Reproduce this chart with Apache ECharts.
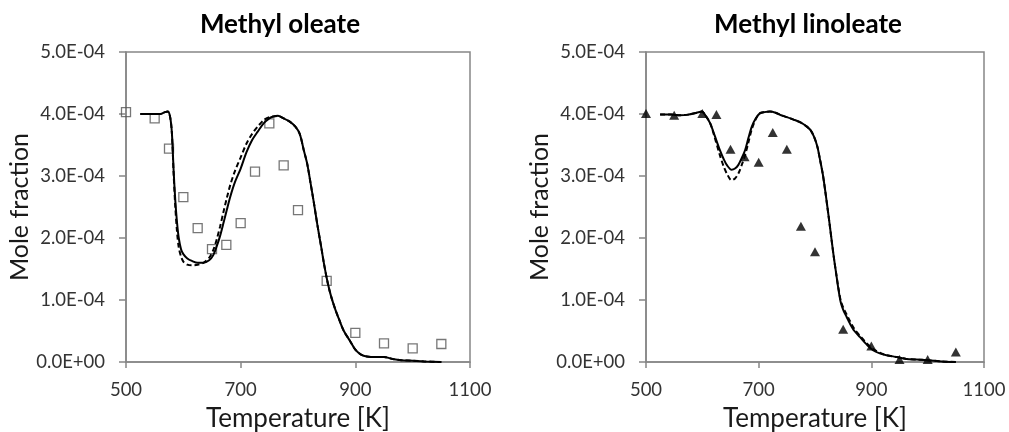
<!DOCTYPE html>
<html>
<head>
<meta charset="utf-8">
<script src="https://cdn.jsdelivr.net/npm/echarts@6/dist/echarts.min.js"></script>
<style>
html,body{margin:0;padding:0;background:#fff;}
#chart{width:1009px;height:432px;}
</style>
</head>
<body>
<div id="chart"></div>
<script>
// Values in units of 1E-04 mole fraction
const titles = ['Methyl oleate', 'Methyl linoleate'];
const xTicks = [500, 700, 900, 1100];
const yTicks = [0, 1, 2, 3, 4, 5]; // x 1E-04

// Methyl oleate experiments (open squares)
const oleExpT = [500, 550, 575, 600, 625, 650, 675, 700, 725, 750, 775, 800, 850, 900, 950, 1000, 1050];
const oleExpV = [4.03, 3.93, 3.44, 2.66, 2.16, 1.82, 1.89, 2.24, 3.07, 3.85, 3.17, 2.45, 1.31, 0.47, 0.30, 0.22, 0.29];

// Methyl oleate model (solid)
const oleModT = [525,545,560,568,573,577,580,583,586,589,592,596,600,607,615,625,635,645,652,658,664,670,676,682,690,700,710,720,730,740,750,757,765,775,785,795,803,810,816,822,828,834,840,846,852,858,865,872,880,890,900,910,920,935,950,965,980,1000,1020,1050];
const oleSolidV = [4.00,4.00,4.00,4.03,4.04,3.95,3.70,3.10,2.60,2.25,2.00,1.82,1.74,1.67,1.63,1.60,1.60,1.64,1.72,1.86,2.03,2.24,2.46,2.67,2.90,3.12,3.38,3.58,3.72,3.85,3.93,3.96,3.97,3.93,3.88,3.80,3.68,3.42,3.20,2.88,2.55,2.20,1.88,1.55,1.27,1.05,0.85,0.68,0.50,0.35,0.20,0.12,0.09,0.08,0.08,0.05,0.03,0.02,0.01,0.00];
const oleDashV = [4.00,4.00,4.00,4.03,4.04,3.95,3.70,3.05,2.50,2.10,1.85,1.70,1.62,1.57,1.56,1.57,1.60,1.68,1.80,1.97,2.18,2.42,2.65,2.86,3.08,3.30,3.52,3.68,3.80,3.90,3.95,3.96,3.97,3.93,3.88,3.80,3.68,3.42,3.20,2.88,2.55,2.20,1.88,1.55,1.27,1.05,0.85,0.68,0.50,0.35,0.20,0.12,0.09,0.08,0.08,0.05,0.03,0.02,0.01,0.00];

// Methyl linoleate experiments (filled triangles)
const linExpT = [500, 550, 600, 625, 650, 675, 700, 725, 750, 775, 800, 850, 900, 950, 1000, 1050];
const linExpV = [4.01, 3.98, 4.01, 3.99, 3.43, 3.31, 3.22, 3.70, 3.43, 2.19, 1.78, 0.53, 0.26, 0.04, 0.04, 0.16];

// Methyl linoleate model
const linModT = [525,545,560,575,590,599,606,614,622,631,638,644,652,658,664,670,676,682,688,695,702,710,720,730,740,750,762,775,785,792,798,804,809,814,818,822,826,830,834,838,842,846,851,856,862,870,880,892,903,915,927,945,962,980,1000,1025,1050];
const linSolidV = [3.99,3.99,3.98,3.99,4.02,4.04,3.97,3.85,3.65,3.42,3.27,3.17,3.10,3.12,3.18,3.29,3.42,3.62,3.80,3.93,4.01,4.03,4.04,4.02,3.98,3.95,3.91,3.86,3.80,3.74,3.64,3.48,3.26,3.02,2.77,2.50,2.22,1.93,1.65,1.40,1.15,0.95,0.82,0.73,0.62,0.50,0.40,0.28,0.19,0.14,0.11,0.08,0.05,0.04,0.03,0.01,0.00];
const linDashV = [3.99,3.99,3.98,3.99,4.02,4.04,3.97,3.85,3.62,3.34,3.15,3.03,2.93,2.96,3.04,3.18,3.34,3.55,3.76,3.92,4.01,4.03,4.04,4.02,3.98,3.95,3.91,3.86,3.80,3.74,3.64,3.48,3.26,3.02,2.77,2.50,2.22,1.93,1.65,1.40,1.17,0.98,0.86,0.77,0.66,0.53,0.42,0.30,0.21,0.15,0.11,0.08,0.05,0.04,0.03,0.01,0.00];

const E4 = 1e-4;
const pairs = (xs, ys) => xs.map((x, i) => [x, ys[i] * E4]);

function fmtSci(v) {
  if (Math.abs(v) < 1e-12) return '0.0E+00';
  const s = v.toExponential(1);
  const [m, e] = s.split('e');
  const sign = e[0] === '-' ? '-' : '+';
  const d = e.replace(/[+-]/, '').padStart(2, '0');
  return m + 'E' + sign + d;
}

const FONT = 'Lato';
const AX = '#868686';

const grids = [
  {left: 126, top: 52, width: 344, height: 310},
  {left: 646, top: 52, width: 338, height: 310}
];

function xAxis(i) {
  return {
    type: 'value', gridIndex: i, min: xTicks[0], max: xTicks[xTicks.length - 1], interval: 200,
    name: 'Temperature [K]', nameLocation: 'middle', nameGap: 44,
    nameTextStyle: {fontFamily: FONT, fontSize: 26, color: '#1a1a1a'},
    axisLine: {show: true, lineStyle: {color: AX, width: 1.5}},
    axisTick: {show: true, inside: false, length: 6, lineStyle: {color: AX, width: 1.5}},
    axisLabel: {fontFamily: FONT, fontSize: 18.5, color: '#333', margin: 19, formatter: v => String(v)},
    splitLine: {show: false}
  };
}
function yAxis(i) {
  return {
    type: 'value', gridIndex: i, min: yTicks[0] * E4, max: yTicks[yTicks.length - 1] * E4, interval: E4,
    name: 'Mole fraction', nameLocation: 'middle', nameGap: 91,
    nameTextStyle: {fontFamily: FONT, fontSize: 25, color: '#1a1a1a'},
    axisLine: {show: true, lineStyle: {color: AX, width: 1.5}},
    axisTick: {show: true, inside: false, length: 7, lineStyle: {color: AX, width: 1.5}},
    axisLabel: {fontFamily: FONT, fontSize: 18.5, color: '#333', margin: 21, formatter: fmtSci},
    splitLine: {show: false}
  };
}

function lineSeries(i, xs, ys, dashed) {
  return {
    type: 'line', xAxisIndex: i, yAxisIndex: i, data: pairs(xs, ys),
    showSymbol: false, symbol: 'none', smooth: 0.3, z: dashed ? 4 : 5,
    lineStyle: {color: '#000', width: 2, type: dashed ? [5, 3] : 'solid'},
    silent: true, animation: false
  };
}

const option = {
  backgroundColor: '#fff',
  animation: false,
  grid: grids.map(g => Object.assign({show: true, borderColor: AX, borderWidth: 1.5, backgroundColor: 'transparent', containLabel: false, outerBoundsMode: 'none'}, g)),
  xAxis: [xAxis(0), xAxis(1)],
  yAxis: [yAxis(0), yAxis(1)],
  graphic: [
    {type: 'text', x: 280, y: 25, style: {text: titles[0], fontFamily: FONT, fontWeight: 'bold', fontSize: 26, fill: '#000', textAlign: 'center', textVerticalAlign: 'middle'}},
    {type: 'text', x: 808, y: 25, style: {text: titles[1], fontFamily: FONT, fontWeight: 'bold', fontSize: 26, fill: '#000', textAlign: 'center', textVerticalAlign: 'middle'}}
  ],
  series: [
    {type: 'scatter', xAxisIndex: 0, yAxisIndex: 0, data: pairs(oleExpT, oleExpV), symbol: 'rect', symbolSize: 9, z: 3,
     itemStyle: {color: 'rgba(255,255,255,0)', borderColor: '#555', borderWidth: 1.3}},
    lineSeries(0, oleModT, oleDashV, true),
    lineSeries(0, oleModT, oleSolidV, false),
    lineSeries(1, linModT, linDashV, true),
    lineSeries(1, linModT, linSolidV, false),
    {type: 'scatter', xAxisIndex: 1, yAxisIndex: 1, data: pairs(linExpT, linExpV), symbol: 'triangle', symbolSize: [10, 9], z: 6,
     itemStyle: {color: '#000'}}
  ]
};

const chart = echarts.init(document.getElementById('chart'), null, {renderer: 'canvas'});
chart.setOption(option);
</script>
</body>
</html>
